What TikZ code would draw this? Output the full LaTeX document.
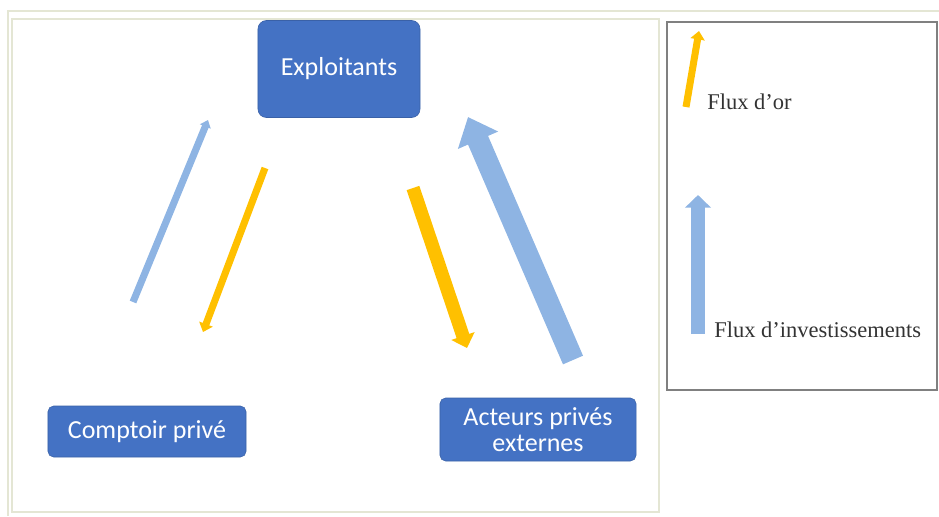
\documentclass[tikz,border=0pt]{standalone}
\usepackage{fontspec}
\setmainfont{Liberation Serif}
\newfontfamily\boxfont{Carlito}
\usetikzlibrary{arrows.meta}
\definecolor{boxblue}{HTML}{4472C4}
\definecolor{invblue}{HTML}{8EB4E3}
\definecolor{orflux}{HTML}{FFC000}
\definecolor{paneline}{HTML}{E4E6D4}
\tikzset{
  actor/.style={fill=boxblue, draw=boxblue!85!black, rounded corners=4pt, text=white,
    font=\boxfont\fontsize{18.5}{18.5}\selectfont, align=center, inner sep=0pt},
  legendtext/.style={anchor=west, text=black!80, font=\fontsize{16}{18}\selectfont, inner sep=0pt},
  orthin/.style={draw=orflux, line width=5pt, -{Triangle[length=6pt,width=10pt]}},
  orthick/.style={draw=orflux, line width=9.5pt, -{Triangle[length=9pt,width=17pt]}},
  invthin/.style={draw=invblue, line width=5pt, -{Triangle[length=5pt,width=8pt]}},
  invthick/.style={draw=invblue, line width=15.5pt, -{Triangle[length=18pt,width=30pt]}},
  invlegend/.style={draw=invblue, line width=10pt, -{Triangle[length=9pt,width=18pt]}}
}
\begin{document}
\begin{tikzpicture}[x=0.025cm, y=-0.025cm]
  \useasboundingbox (0,0) rectangle (939,516);
  \draw[paneline, line width=0.8pt] (8,516) -- (8,11) -- (939,11);
  \draw[paneline, line width=1pt] (12,19) rectangle (659,512);
  \draw[black!50, line width=0.9pt] (667,22) rectangle (937,390);
  \node[actor, minimum width=4.05cm, minimum height=2.425cm, rounded corners=6pt] (expl) at (339,69) {Exploitants};
  \node[actor, minimum width=4.95cm, minimum height=1.275cm] (comptoir) at (147,431.5) {Comptoir privé};
  \node[actor, minimum width=4.9cm, minimum height=1.575cm] (acteurs) at (538,429.5) {Acteurs privés\\externes};
  \coordinate (comptoirIn) at (133,302);
  \coordinate (explIn) at (208,120);
  \coordinate (explOut) at (265,168);
  \coordinate (comptoirOut) at (203,332);
  \coordinate (explOr) at (413,188);
  \coordinate (acteursOr) at (467,348);
  \coordinate (acteursInv) at (573,360);
  \coordinate (explInv) at (468,117);
  \draw (comptoirIn) edge[invthin] (explIn);
  \draw (explOut) edge[orthin] (comptoirOut);
  \draw (explOr) edge[orthick] (acteursOr);
  \draw (acteursInv) edge[invthick] (explInv);
  \node[legendtext] (lor) at (707,102) {Flux d'or};
  \node[legendtext] (linv) at (714,330) {Flux d'investissements};
  \coordinate (lorA) at (686,107);
  \coordinate (lorB) at (699,31);
  \coordinate (linvA) at (698,334);
  \coordinate (linvB) at (698,195);
  \draw (lorA) edge[orthin] (lorB);
  \draw (linvA) edge[invlegend] (linvB);
\end{tikzpicture}
\end{document}
